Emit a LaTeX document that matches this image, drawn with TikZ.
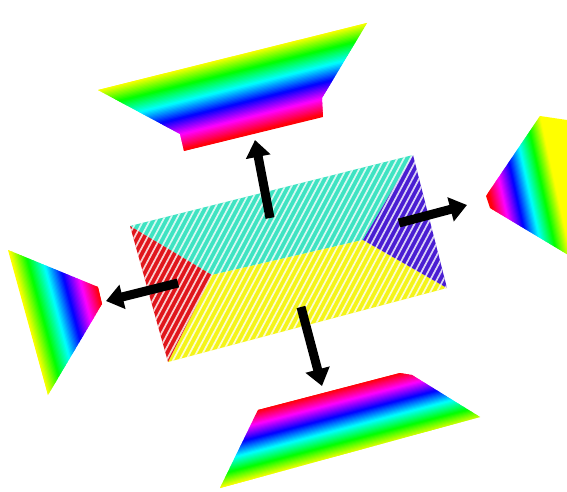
\documentclass[tikz,border=0pt]{standalone}
\usepackage{tikz}
\usetikzlibrary{arrows.meta}
\usepackage{xcolor}
\definecolor{hatchcyan}{HTML}{3FE3C2}
\definecolor{hatchred}{HTML}{E0161C}
\definecolor{hatchviolet}{HTML}{4A1ED2}
\definecolor{hatchyellow}{HTML}{F4F41A}

% rainbow bands: origin, angle, depth, hue at origin, hue at depth
\newcommand{\rainbowband}[5]{%
  \begin{scope}[shift={#1}, rotate=#2]
    \pgfmathsetmacro{\bandhue}{mod(#4,360)}
    \definecolor{bandcol}{Hsb}{\bandhue,1,1}
    \fill[bandcol] (-120,-60) rectangle (420,0.5);
    \pgfmathsetmacro{\bandhue}{mod(#5,360)}
    \definecolor{bandcol}{Hsb}{\bandhue,1,1}
    \fill[bandcol] (-120,{#3-0.5}) rectangle (420,{#3+60});
    \foreach \k in {0,...,59} {
      \pgfmathsetmacro{\bandhue}{mod(#4+(#5-#4)/60*(\k+0.5),360)}
      \definecolor{bandcol}{Hsb}{\bandhue,1,1}
      \fill[bandcol] (-120,{#3/60*\k}) rectangle (420,{#3/60*(\k+1.6)});
    }
  \end{scope}}

\begin{document}
\begin{tikzpicture}[x=1pt, y=-1pt,
    pusharrow/.style={line width=9pt, -{Triangle[width=24pt,length=17pt]}},
    hatchline/.style={white, line width=1.7pt, opacity=0.8}]
    \useasboundingbox (0,0) rectangle (567,492);

    % Top piece
    \begin{scope}
        \clip (98,90) -- (367,23) -- (322,98) -- (323,117) -- (184,151) -- (180,134) -- cycle;
        \rainbowband{(98,90)}{14}{79}{60}{360}
    \end{scope}

    % Bottom piece
    \begin{scope}
        \clip (220,488) -- (258,410) -- (400,373) -- (412,375) -- (480,417) -- cycle;
        \rainbowband{(258,410)}{14.6}{66}{360}{60}
    \end{scope}

    % Left piece
    \begin{scope}
        \clip (8,250) -- (98,287) -- (102,304) -- (48,395) -- cycle;
        \rainbowband{(48,395)}{105}{76}{60}{360}
    \end{scope}

    % Right piece
    \begin{scope}
        \clip (540,116) -- (486,196) -- (490,208) -- (570,256) -- (567,120) -- cycle;
        \rainbowband{(540,116)}{-77.6}{67}{60}{360}
    \end{scope}

    % Central block corners
    \coordinate (tl) at (130,226);
    \coordinate (tr) at (413,155);
    \coordinate (br) at (447,288);
    \coordinate (bl) at (168,362);
    \coordinate (redIn) at (212,275);
    \coordinate (violetIn) at (363,240);

    \fill[hatchcyan] (tl) -- (tr) -- (violetIn) -- (redIn) -- cycle;
    \fill[hatchyellow] (redIn) -- (violetIn) -- (br) -- (bl) -- cycle;
    \fill[hatchred] (tl) -- (redIn) -- (bl) -- cycle;
    \fill[hatchviolet] (tr) -- (br) -- (violetIn) -- cycle;

    % White hatching
    \begin{scope}
        \clip (tl) -- (tr) -- (br) -- (bl) -- cycle;
        \foreach \hx in {0,6.5,...,460}
            \draw[hatchline] (\hx,380) -- ++(133,-250);
    \end{scope}

    % Arrows
    \coordinate (upTail) at (270,218);
    \coordinate (upTip) at (255,140);
    \coordinate (rightTail) at (399,223);
    \coordinate (rightTip) at (467,205);
    \coordinate (leftTail) at (178,283);
    \coordinate (leftTip) at (106,301);
    \coordinate (downTail) at (301,307);
    \coordinate (downTip) at (322,386);

    \draw[pusharrow] (upTail) -- (upTip);
    \draw[pusharrow] (rightTail) -- (rightTip);
    \draw[pusharrow] (leftTail) -- (leftTip);
    \draw[pusharrow] (downTail) -- (downTip);
\end{tikzpicture}
\end{document}
